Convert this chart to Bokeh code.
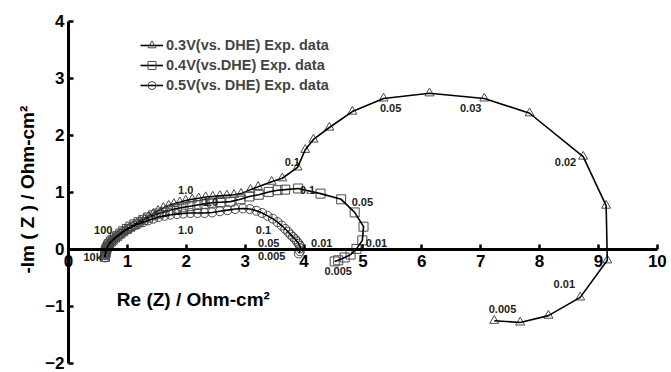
import math
from bokeh.plotting import figure
from bokeh.models import Range1d, FixedTicker, Label, Legend, LegendItem, ColumnDataSource
from bokeh.core.properties import value
from bokeh.embed import file_html
from bokeh.resources import INLINE

# ---------------- data ----------------
x_ticks = [0, 1, 2, 3, 4, 5, 6, 7, 8, 9, 10]
y_ticks = [-2, -1, 0, 1, 2, 3, 4]

names = ["0.3V(vs. DHE) Exp. data", "0.4V(vs.DHE) Exp. data", "0.5V(vs. DHE) Exp. data"]

x03 = [0.62, 0.62, 0.63, 0.63, 0.64, 0.65, 0.66, 0.68, 0.70, 0.73, 0.76, 0.80, 0.84, 0.88,
       0.93, 0.98, 1.04, 1.10, 1.16, 1.22, 1.29, 1.36, 1.44, 1.52, 1.61, 1.70, 1.79, 1.89,
       1.99, 2.10, 2.21, 2.33, 2.45, 2.57, 2.69, 2.81, 2.93, 3.09, 3.22, 3.45, 3.63, 3.89,
       4.02, 4.16, 4.43, 4.82, 5.35, 6.13, 7.06, 7.83, 8.74, 9.13, 9.15, 8.69, 8.15, 7.67, 7.23]
y03 = [-0.12, -0.08, -0.05, -0.02, 0.01, 0.04, 0.07, 0.10, 0.13, 0.16, 0.19, 0.22, 0.25, 0.28,
       0.31, 0.34, 0.38, 0.42, 0.46, 0.50, 0.54, 0.58, 0.63, 0.68, 0.73, 0.77, 0.80, 0.83,
       0.86, 0.88, 0.90, 0.92, 0.93, 0.94, 0.95, 0.96, 0.98, 1.05, 1.10, 1.19, 1.25, 1.44,
       1.75, 1.93, 2.14, 2.42, 2.65, 2.74, 2.65, 2.39, 1.63, 0.77, -0.19, -0.84, -1.16, -1.28, -1.25]

x04 = [0.62, 0.62, 0.63, 0.63, 0.64, 0.65, 0.67, 0.69, 0.72, 0.75, 0.79, 0.83, 0.88, 0.93,
       0.99, 1.05, 1.12, 1.19, 1.27, 1.35, 1.44, 1.53, 1.63, 1.73, 1.84, 1.95, 2.07, 2.19,
       2.31, 2.44, 2.58, 2.75, 2.92, 3.07, 3.23, 3.40, 3.55, 3.68, 3.90, 4.28, 4.63, 4.86,
       5.01, 4.99, 4.89, 4.79, 4.69, 4.58, 4.52]
y04 = [-0.13, -0.09, -0.06, -0.03, 0.00, 0.03, 0.07, 0.10, 0.14, 0.17, 0.21, 0.24, 0.28, 0.32,
       0.36, 0.40, 0.44, 0.48, 0.52, 0.56, 0.60, 0.63, 0.66, 0.69, 0.72, 0.74, 0.76, 0.78,
       0.80, 0.82, 0.83, 0.84, 0.88, 0.93, 0.96, 1.01, 1.04, 1.05, 1.07, 0.98, 0.88, 0.65,
       0.40, 0.16, 0.01, -0.09, -0.14, -0.19, -0.21]

x05 = [0.62, 0.62, 0.63, 0.63, 0.64, 0.65, 0.67, 0.69, 0.72, 0.75, 0.79, 0.83, 0.88, 0.93,
       0.99, 1.05, 1.12, 1.19, 1.27, 1.35, 1.44, 1.53, 1.63, 1.73, 1.84, 1.95, 2.07, 2.19,
       2.31, 2.44, 2.57, 2.70, 2.83, 2.96, 3.08, 3.19, 3.29, 3.38, 3.47, 3.55, 3.62, 3.68,
       3.73, 3.77, 3.81, 3.85, 3.88, 3.91, 3.93, 3.94, 3.93, 3.91]
y05 = [-0.14, -0.10, -0.07, -0.04, -0.01, 0.02, 0.06, 0.09, 0.13, 0.16, 0.20, 0.23, 0.27, 0.31,
       0.35, 0.38, 0.42, 0.45, 0.48, 0.51, 0.54, 0.57, 0.59, 0.61, 0.62, 0.63, 0.64, 0.64,
       0.64, 0.65, 0.67, 0.69, 0.71, 0.72, 0.71, 0.68, 0.64, 0.59, 0.54, 0.48, 0.42, 0.36,
       0.31, 0.26, 0.22, 0.18, 0.14, 0.10, 0.06, 0.02, -0.03, -0.07]

# frequency annotations (Hz)
freq_text = ["10k", "100", "1.0", "0.1", "0.05", "0.03", "0.02", "0.01", "0.005",
             "1.0", "0.1", "0.05", "0.01", "0.005",
             "1.0", "0.1", "0.05", "0.01", "0.005"]
freq_x = [0.41, 0.59, 1.99, 3.80, 5.47, 6.83, 8.44, 8.42, 7.37,
          2.41, 4.06, 4.99, 5.23, 4.58,
          1.99, 3.31, 3.40, 4.30, 3.45]
freq_y = [-0.14, 0.35, 1.05, 1.54, 2.49, 2.49, 1.54, -0.60, -1.04,
          0.84, 1.05, 0.84, 0.12, -0.37,
          0.35, 0.35, 0.12, 0.12, -0.11]

xlabel = "Re (Z) / Ohm-cm\u00b2"
ylabel = "-Im ( Z ) / Ohm-cm\u00b2"

# ---------------- figure ----------------
FONT = "Liberation Sans"
p = figure(width=671, height=372, x_range=Range1d(-1.155, 10.24), y_range=Range1d(-2.158, 4.368),
           output_backend="svg", toolbar_location=None, min_border=0)
p.title.visible = False
p.grid.visible = False
p.outline_line_color = None

for ax in (p.xaxis[0], p.yaxis[0]):
    ax.fixed_location = 0
    ax.axis_line_width = 3
    ax.axis_line_color = "black"
    ax.major_tick_line_width = 2.5
    ax.major_tick_line_color = "black"
    ax.major_tick_in = 5
    ax.major_tick_out = 0
    ax.minor_tick_line_color = None
    ax.major_label_text_font = FONT
    ax.major_label_text_font_style = "bold"
    ax.major_label_text_font_size = "17px"
    ax.major_label_text_color = "black"

p.xaxis[0].bounds = (0, 10)
p.xaxis[0].ticker = FixedTicker(ticks=x_ticks)
p.xaxis[0].major_label_standoff = 6
p.yaxis[0].bounds = (-2, 4)
p.yaxis[0].ticker = FixedTicker(ticks=y_ticks)
p.yaxis[0].major_label_standoff = 4

MC = "#4a4a4a"
series = [(x03, y03, "triangle", 9), (x04, y04, "square", 9), (x05, y05, "circle", 9)]
items = []
for (xs, ys, mk, sz), nm in zip(series, names):
    src = ColumnDataSource(dict(x=xs, y=ys))
    sr = p.scatter("x", "y", source=src, marker=mk, size=sz, fill_color=None,
                   line_color=MC, line_width=1)
    lr = p.line("x", "y", source=src, line_color="black", line_width=1.6)
    items.append(LegendItem(label=nm, renderers=[lr, sr]))

p.text(x=freq_x, y=freq_y, text=freq_text, text_align="center", text_baseline="middle",
       text_font=value(FONT), text_font_style="bold", text_font_size="11px", text_color="#222222")

p.add_layout(Label(x=2.12, y=-0.88, text=xlabel, text_align="center", text_baseline="middle",
                   text_font=FONT, text_font_style="bold", text_font_size="19px",
                   text_color="black"))
p.add_layout(Label(x=-0.70, y=1.05, text=ylabel, text_align="center", text_baseline="middle",
                   angle=math.pi / 2, text_font=FONT, text_font_style="bold",
                   text_font_size="19px", text_color="black"))

leg = Legend(items=items, location=(140, 277))
leg.padding = 0
leg.margin = 0
leg.spacing = 0
leg.label_height = 20
leg.glyph_height = 20
leg.glyph_width = 23
leg.label_standoff = 3
leg.border_line_color = None
leg.background_fill_alpha = 0
leg.label_text_font = FONT
leg.label_text_font_style = "bold"
leg.label_text_font_size = "14.5px"
p.add_layout(leg)

open("out.html", "w").write(file_html(p, INLINE))
